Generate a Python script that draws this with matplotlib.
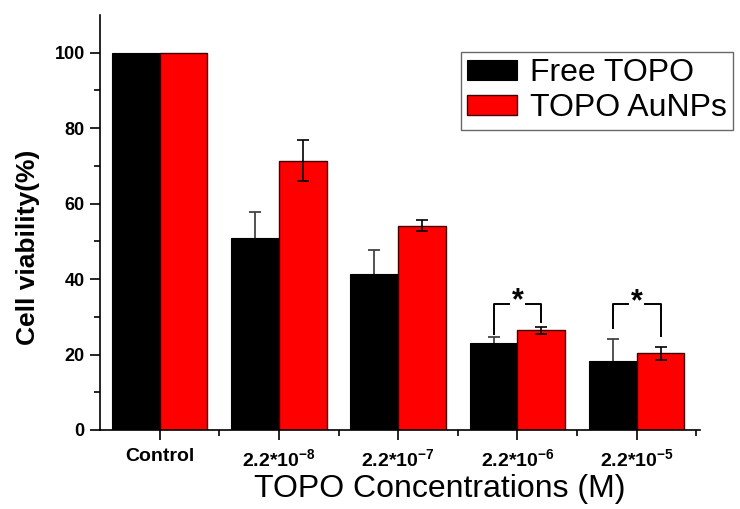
import matplotlib
matplotlib.use("Agg")
import matplotlib.pyplot as plt
import numpy as np

plt.rcParams['font.family'] = ['Liberation Sans', 'DejaVu Sans']
plt.rcParams['mathtext.fontset'] = 'custom'
plt.rcParams['mathtext.bf'] = 'Liberation Sans:bold'
plt.rcParams['mathtext.rm'] = 'Liberation Sans:bold'
plt.rcParams['mathtext.default'] = 'bf'

categories = ["Control", "2.2*10$^{-8}$", "2.2*10$^{-7}$", "2.2*10$^{-6}$", "2.2*10$^{-5}$"]
free_topo = [100, 51, 41.3, 23.1, 18.2]
free_err = [0, 6.9, 6.4, 1.6, 5.8]
topo_aunps = [100, 71.4, 54.2, 26.4, 20.3]
aunps_err = [0, 5.5, 1.5, 1.0, 1.7]
# significance brackets
sig_cat = [3, 4]
sig_left = [25.5, 27.0]
sig_right = [28.6, 25.0]
sig_top = [33.5, 33.4]

fig = plt.figure(figsize=(7.4, 5.09), dpi=100)
ax = fig.add_axes([100/740, 1-430/509, 600/740, 415/509])

x = np.arange(len(categories))
w = 0.4
ax.bar(x - w/2, free_topo, w, color='black', edgecolor='black', linewidth=0.8,
       label='Free TOPO', zorder=2)
ax.bar(x + w/2, topo_aunps, w, color='#ff0000', edgecolor='#400000', linewidth=1.0,
       label='TOPO AuNPs', zorder=2)
ax.errorbar(x[1:] - w/2, free_topo[1:], yerr=free_err[1:], fmt='none', ecolor='#444444',
            elinewidth=1.3, capsize=4.5, capthick=1.3, zorder=1)
ax.errorbar(x[1:] + w/2, topo_aunps[1:], yerr=aunps_err[1:], fmt='none', ecolor='black',
            elinewidth=1.2, capsize=4.5, capthick=1.2, zorder=3)

for c, l, r, t in zip(sig_cat, sig_left, sig_right, sig_top):
    xl = c - w/2
    xr = c + w/2
    ax.plot([xl, xl, c - 0.07], [l, t, t], color='black', lw=1.4, zorder=3)
    ax.plot([c + 0.07, xr, xr], [t, t, r], color='black', lw=1.4, zorder=3)
    ax.text(c, t - 3.4, '*', ha='center', va='bottom', fontsize=22, fontweight='bold')

ax.set_xlim(-0.5, 4.53)
ax.set_ylim(0, 110)
ax.set_xticks(x)
ax.set_xticklabels(categories, fontsize=14, fontweight='bold')
ax.set_xticks(np.arange(0.5, 4.6, 1.0), minor=True)
ax.set_yticks(np.arange(0, 101, 20))
ax.set_yticks(np.arange(10, 101, 20), minor=True)
for lab in ax.get_yticklabels():
    lab.set_fontweight('bold')
    lab.set_fontsize(13)
ax.tick_params(axis='both', which='major', direction='out', length=7, width=1.2)
ax.tick_params(axis='both', which='minor', direction='out', length=4, width=1.2)
ax.tick_params(axis='x', which='major', pad=6)
ax.tick_params(axis='y', which='major', pad=4)

for s in ['top', 'right']:
    ax.spines[s].set_visible(False)
for s in ['left', 'bottom']:
    ax.spines[s].set_linewidth(1.2)

ax.set_ylabel('Cell viability(%)', fontsize=19, fontweight='bold', va='center')
ax.yaxis.set_label_coords(-0.12, 0.44)
ax.set_xlabel('TOPO Concentrations (M)', fontsize=23)
ax.xaxis.set_label_coords(0.567, -0.105)

leg = ax.legend(loc='upper left', bbox_to_anchor=(461/740, 1-52/509), bbox_transform=fig.transFigure,
                fontsize=23, frameon=True, fancybox=False, edgecolor='#444444',
                handlelength=1.55, handleheight=0.55, handletextpad=0.4, borderpad=0.2,
                labelspacing=0.15, borderaxespad=0)
leg.get_frame().set_linewidth(1.0)

fig.savefig('out.png', dpi=100)
